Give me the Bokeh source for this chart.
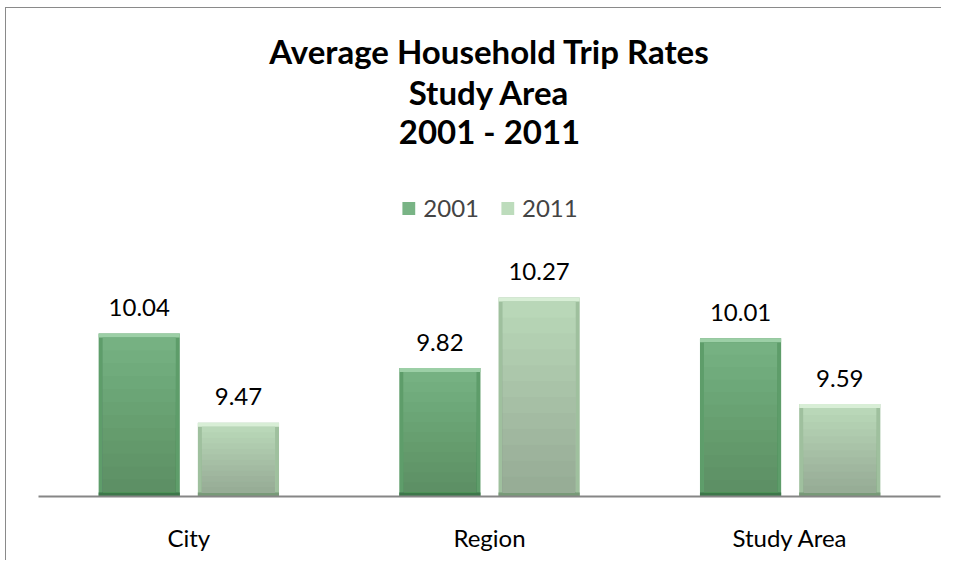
from bokeh.plotting import figure
from bokeh.models import ColumnDataSource, FactorRange, Range1d, Label, Legend, LegendItem
from bokeh.transform import dodge
from bokeh.embed import file_html
from bokeh.resources import INLINE
from bokeh.core.properties import value

categories = ["City", "Region", "Study Area"]
series = ["2001", "2011"]
rates_2001 = [10.04, 9.82, 10.01]
rates_2011 = [9.47, 10.27, 9.59]
title_lines = ["Average Household Trip Rates", "Study Area", "2001 - 2011"]

AXIS_MIN = 9.0
PX_PER_UNIT = 156.7
W, H = 936, 553
BORDER_BOTTOM = 65
FRAME_H = H - BORDER_BOTTOM
Y_MAX = AXIS_MIN + FRAME_H / PX_PER_UNIT
FONT = "Lato"
CAT_PX = 300.7
BEVEL = 4  # px
SHADE_STEPS = 12


def y_at(canvas_y):
    return AXIS_MIN + (FRAME_H - canvas_y) / PX_PER_UNIT


dy = BEVEL / PX_PER_UNIT
dx = BEVEL / CAT_PX

data = dict(
    cat=categories,
    y2001=rates_2001,
    y2011=rates_2011,
    y2001_in=[v - dy for v in rates_2001],
    y2011_in=[v - dy for v in rates_2011],
    t2001=[f"{v:.2f}" for v in rates_2001],
    t2011=[f"{v:.2f}" for v in rates_2011],
)
# shading bands (darker towards the base), derived from each bar's height
for s, vals in (("2001", rates_2001), ("2011", rates_2011)):
    for k in range(1, SHADE_STEPS + 1):
        data[f"sh{s}_{k}"] = [AXIS_MIN + dy + (v - 2 * dy - AXIS_MIN) * k / SHADE_STEPS for v in vals]
src = ColumnDataSource(data)

p = figure(width=W, height=H, x_range=FactorRange(*categories, range_padding=0),
           y_range=Range1d(AXIS_MIN, Y_MAX), output_backend="svg", toolbar_location=None,
           y_axis_location=None, min_border_left=32, min_border_right=2,
           min_border_top=0, min_border_bottom=BORDER_BOTTOM)
p.outline_line_color = None
p.xgrid.visible = False
p.ygrid.visible = False
p.background_fill_color = "white"
p.border_fill_color = "white"
p.styles = {"border-top": "1px solid #8a8a8a", "border-left": "1px solid #8a8a8a",
            "margin-left": "5px", "margin-top": "7px"}

OFF = 0.165
BW = 0.27
styles = {
    "2001": dict(main="#79b485", top="#9ccfa6", side="#5e9d6a", bottom="#3d774a", shade="#1f4a28"),
    "2011": dict(main="#bddcbc", top="#d8eed6", side="#9fc09e", bottom="#789a78", shade="#3e5a3e"),
}

legend_renderers = []
for s, off in zip(series, [-OFF, OFF]):
    c = styles[s]
    xs = dodge("cat", off, range=p.x_range)
    p.vbar(x=xs, top="y" + s, bottom=AXIS_MIN, width=BW, source=src,
           fill_color=c["side"], line_color=None)
    p.vbar(x=xs, top="y" + s, bottom="y" + s + "_in", width=BW, source=src,
           fill_color=c["top"], line_color=None)
    p.vbar(x=xs, top=AXIS_MIN + dy, bottom=AXIS_MIN, width=BW, source=src,
           fill_color=c["bottom"], line_color=None)
    r = p.vbar(x=xs, top="y" + s + "_in", bottom=AXIS_MIN + dy, width=BW - 2 * dx,
               source=src, fill_color=c["main"], line_color=None)
    for k in range(1, SHADE_STEPS + 1):
        p.vbar(x=xs, top=f"sh{s}_{k}", bottom=AXIS_MIN + dy, width=BW - 2 * dx,
               source=src, fill_color=c["shade"], fill_alpha=0.028, line_color=None)
    legend_renderers.append(r)
    p.text(x=xs, y="y" + s, text="t" + s, source=src,
           text_align="center", text_baseline="alphabetic", y_offset=-26,
           text_font=value(FONT), text_font_size="24px", text_color="#000000")

for line, cy in zip(title_lines, [42, 83, 122]):
    p.add_layout(Label(x=1.5, y=y_at(cy), text=line, text_align="center",
                       text_baseline="alphabetic", text_font=FONT, text_font_size="33px",
                       text_font_style="bold", text_color="#000000"))

legend = Legend(items=[LegendItem(label=series[0], renderers=[legend_renderers[0]]),
                       LegendItem(label=series[1], renderers=[legend_renderers[1]])],
                orientation="horizontal", location="top_center", margin=185,
                padding=0, spacing=20, label_standoff=7, glyph_width=16, glyph_height=16,
                label_height=24, label_text_font=FONT, label_text_font_size="24px",
                border_line_color=None, background_fill_alpha=0)
p.add_layout(legend)

ax = p.xaxis[0]
ax.axis_line_color = "#868686"
ax.axis_line_width = 2
ax.major_tick_line_color = None
ax.minor_tick_line_color = None
ax.major_label_standoff = 20
ax.major_label_text_font = FONT
ax.major_label_text_font_size = "24px"
ax.major_label_text_color = "#000000"

open("out.html", "w").write(file_html(p, INLINE))
